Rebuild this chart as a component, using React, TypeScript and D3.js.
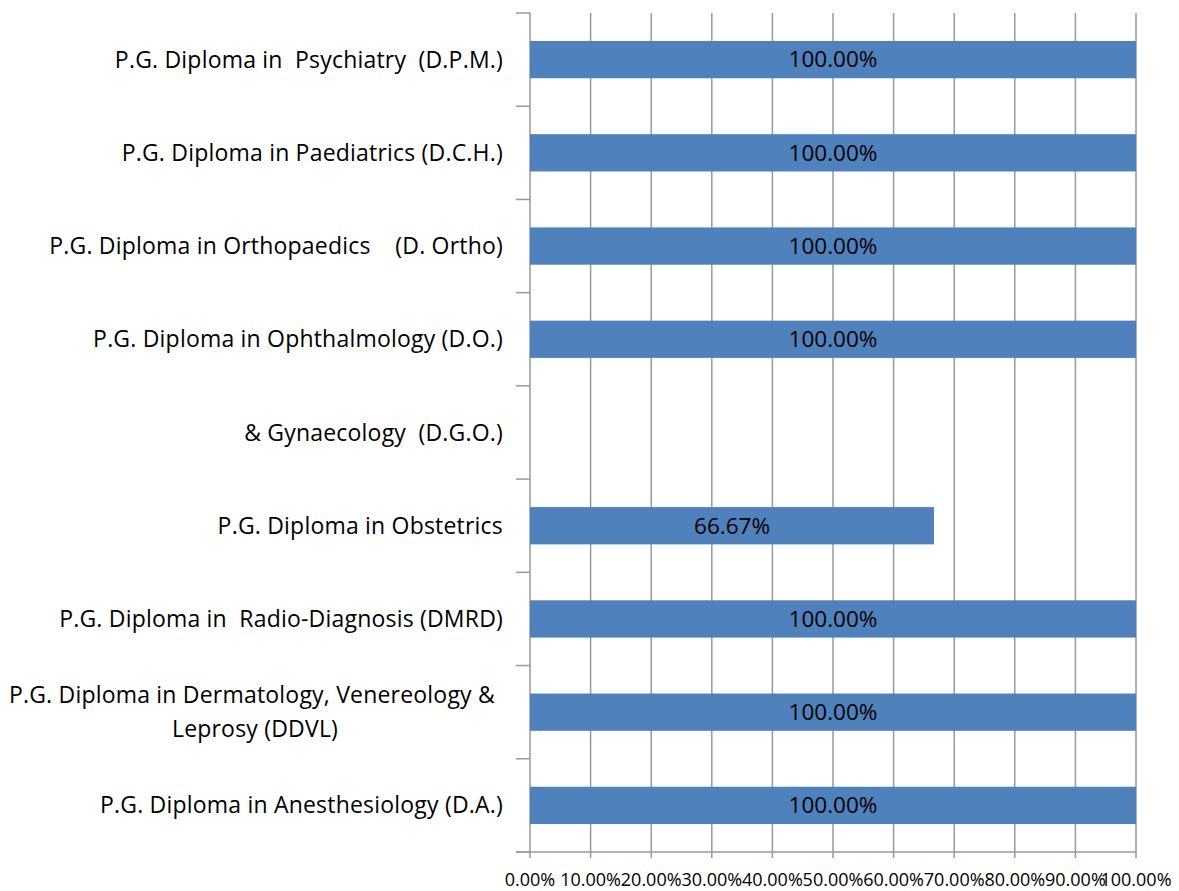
import React from "react";
import * as d3 from "d3";

const categories: string[][] = [
  ["P.G. Diploma in Anesthesiology (D.A.)"],
  ["P.G. Diploma in Dermatology, Venereology & ", "Leprosy (DDVL)"],
  ["P.G. Diploma in  Radio-Diagnosis (DMRD)"],
  ["P.G. Diploma in Obstetrics"],
  ["& Gynaecology  (D.G.O.)"],
  ["P.G. Diploma in Ophthalmology (D.O.)"],
  ["P.G. Diploma in Orthopaedics    (D. Ortho)"],
  ["P.G. Diploma in Paediatrics (D.C.H.)"],
  ["P.G. Diploma in  Psychiatry  (D.P.M.)"],
];
const values: (number | null)[] = [1, 1, 1, 0.6667, null, 1, 1, 1, 1];
const ticks: number[] = [0, 0.1, 0.2, 0.3, 0.4, 0.5, 0.6, 0.7, 0.8, 0.9, 1.0];

const W = 1179;
const H = 891;
const left = 530;
const right = 1136;
const top = 13;
const bottom = 852;
const FONT = "'Open Sans', Lato, sans-serif";

export default function App() {
  const x = d3.scaleLinear().domain([0, 1]).range([left, right]);
  const idx = categories.map((_, i) => i);
  const y = d3
    .scaleBand<number>()
    .domain(idx.slice().reverse())
    .range([top, bottom])
    .paddingInner(0.6)
    .paddingOuter(0.3);
  const step = y.step();
  const boundaries = d3.range(categories.length + 1).map((i) => top + i * step);
  const fmt = (v: number) => (v * 100).toFixed(2) + "%";
  const grid = "#999999";

  return (
    <svg
      width={W}
      height={H}
      style={{ position: "absolute", left: 0, top: 0, background: "#fff" }}
      fontFamily={FONT}
    >
      {ticks.map((t, i) => (
        <line key={"g" + i} x1={x(t)} x2={x(t)} y1={top} y2={bottom + 6} stroke={grid} strokeWidth={1.5} />
      ))}
      {boundaries.map((b, i) => (
        <line key={"lt" + i} x1={left - 14} x2={left} y1={b} y2={b} stroke={grid} strokeWidth={1.5} />
      ))}
      <line x1={left - 14} x2={right} y1={bottom} y2={bottom} stroke={grid} strokeWidth={1.5} />
      {idx.map((i) =>
        values[i] == null ? null : (
          <rect
            key={"b" + i}
            x={x(0)}
            y={y(i)!}
            width={x(values[i] as number) - x(0)}
            height={y.bandwidth()}
            fill="#4F81BD"
          />
        )
      )}
      {idx.map((i) =>
        values[i] == null ? null : (
          <text
            key={"d" + i}
            x={(x(0) + x(values[i] as number)) / 2}
            y={y(i)! + y.bandwidth() / 2}
            dy="0.35em"
            textAnchor="middle"
            fontSize={22.5}
            fill="#000"
          >
            {fmt(values[i] as number)}
          </text>
        )
      )}
      {idx.map((i) => {
        const lines = categories[i];
        const cy = y(i)! + y.bandwidth() / 2;
        const lh = 34;
        const x0 = 503;
        return (
          <g key={"c" + i}>
            {lines.length === 1 ? (
              <text x={x0} y={cy} dy="0.35em" textAnchor="end" fontSize={23} letterSpacing={0.2} style={{ whiteSpace: "pre" }}>
                {lines[0]}
              </text>
            ) : (
              <text y={cy - lh / 2} fontSize={23} letterSpacing={0.2} style={{ whiteSpace: "pre" }}>
                {lines.map((l, k) => (
                  <tspan key={k} x={255} y={cy - lh / 2 + k * lh} dy="0.35em" textAnchor="middle">
                    {l}
                  </tspan>
                ))}
              </text>
            )}
          </g>
        );
      })}
      {ticks.map((t, i) => (
        <text key={"xl" + i} x={x(t)} y={886} textAnchor="middle" fontSize={18}>
          {fmt(t)}
        </text>
      ))}
    </svg>
  );
}
